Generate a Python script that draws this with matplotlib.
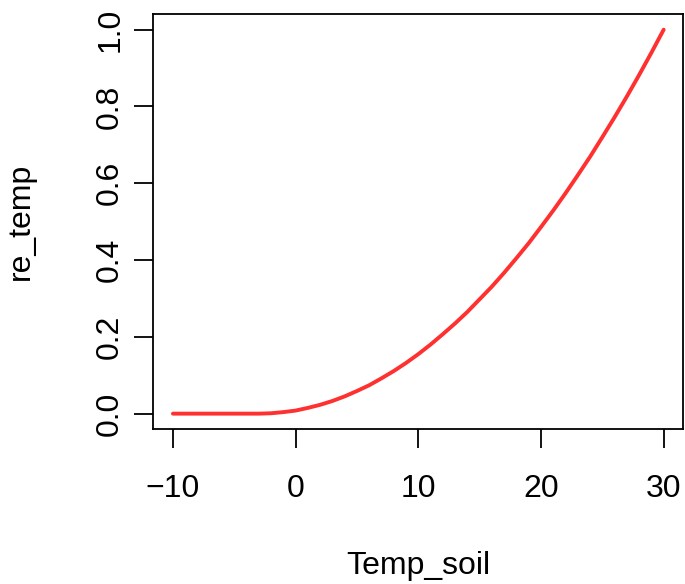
import matplotlib
matplotlib.use('Agg')
import matplotlib.pyplot as plt

plt.rcParams['font.family'] = ['Liberation Sans', 'DejaVu Sans']

# soil temperature (deg C) and response
temp_soil = list(range(-10, 31))
re_temp = [0.0, 0.0, 0.0, 0.0, 0.0, 0.0, 0.0, 0.0,
           0.001, 0.004, 0.008, 0.015, 0.023, 0.033, 0.045, 0.059,
           0.074, 0.092, 0.111, 0.132, 0.155, 0.180, 0.207, 0.235,
           0.265, 0.298, 0.331, 0.367, 0.405, 0.444, 0.486, 0.529,
           0.574, 0.621, 0.669, 0.720, 0.772, 0.826, 0.882, 0.940,
           1.000]
x_ticks = [-10, 0, 10, 20, 30]
y_ticks = [0.0, 0.2, 0.4, 0.6, 0.8, 1.0]

fig = plt.figure(figsize=(6.85, 5.84), dpi=100)
ax = fig.add_axes([0.2238, 0.2654, 0.7737, 0.7101])

ax.plot(temp_soil, re_temp, color='#ff3030', linewidth=2.8,
        solid_capstyle='round', solid_joinstyle='round')

ax.set_xlim(-11.6, 31.6)
ax.set_ylim(-0.04, 1.04)

for s in ax.spines.values():
    s.set_linewidth(1.3)
ax.set_xticks(x_ticks)
ax.set_xticklabels([str(t).replace('-', '\u2212') for t in x_ticks])
ax.set_yticks(y_ticks)
ax.set_yticklabels(['%.1f' % t for t in y_ticks])
ax.tick_params(axis='both', length=13.7, width=1.3, labelsize=23)
ax.tick_params(axis='x', pad=19)
ax.tick_params(axis='y', pad=6.5)
for lab in ax.get_yticklabels():
    lab.set_rotation(90)
    lab.set_va('center')

ax.set_xlabel('Temp_soil', fontsize=23)
ax.xaxis.set_label_coords(0.5, -0.3497)
ax.xaxis.label.set_verticalalignment('baseline')
ax.set_ylabel('re_temp', fontsize=23)
ax.yaxis.set_label_coords(-0.222, 0.5)

fig.savefig('out.png', dpi=100)
